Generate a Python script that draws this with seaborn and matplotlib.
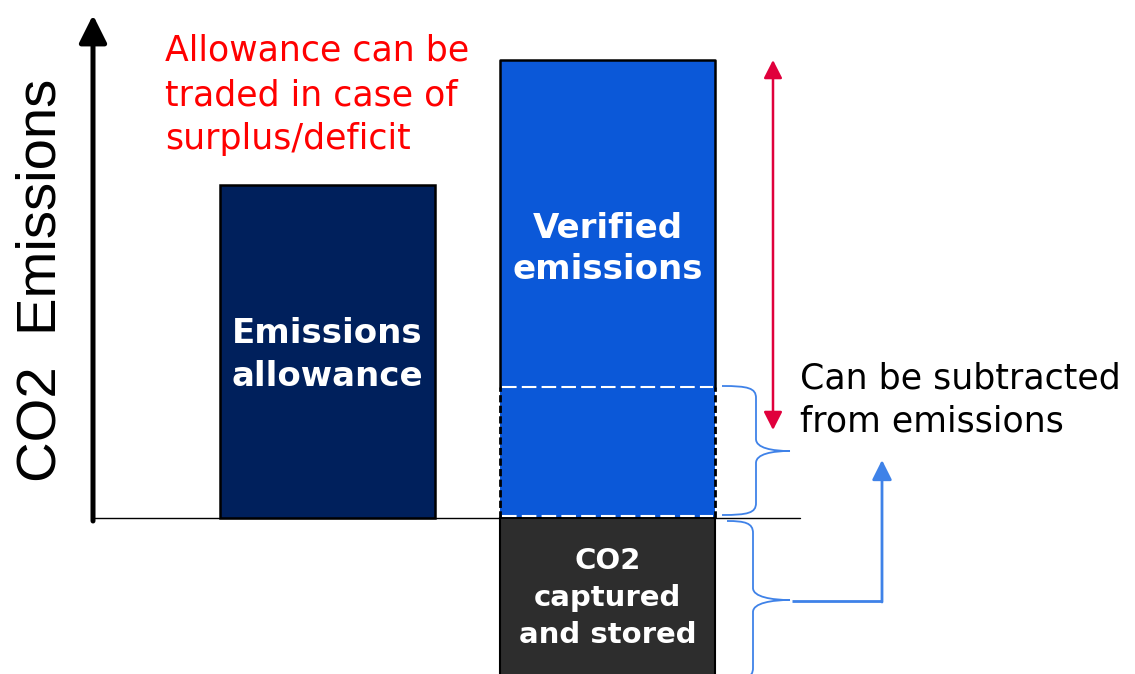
import numpy as np
import pandas as pd
import matplotlib.pyplot as plt
import seaborn as sns
from matplotlib.path import Path
from matplotlib.patches import PathPatch

# --- data (arbitrary emission units, baseline = 0) ---
bar_labels = ["Emissions\nallowance", "Verified\nemissions"]
bar_values = [333, 458]
subtractable = 131       # share of verified emissions offset by CCS
captured_stored = -160   # CO2 captured and stored (below the baseline)

ccs_label = "CO2\ncaptured\nand stored"
axis_label = "CO2  Emissions"
trade_note = "Allowance can be\ntraded in case of\nsurplus/deficit"
subtract_note = "Can be subtracted\nfrom emissions"

# --- layout / styles ---
bar_x = [327.5, 607.5]
bar_colors = ["#00205C", "#0B58D8"]
ccs_color = "#2D2D2D"
brace_color = "#3F82E8"
red_arrow = "#E0003C"
TOP = 518  # pixel row of the baseline


def py(p):
    """pixel row -> data y"""
    return TOP - p


def brace(ax, x0, xm, xt, y_top, y_bot, y_tip, r=12):
    verts = [
        (x0, y_top),
        (xm - 8, y_top), (xm, y_top - 2), (xm, y_top - r),
        (xm, y_tip + r),
        (xm, y_tip + 3), (xt - 18, y_tip), (xt, y_tip),
        (xt - 18, y_tip), (xm, y_tip - 3), (xm, y_tip - r),
        (xm, y_bot + r),
        (xm, y_bot + 2), (xm - 8, y_bot), (x0, y_bot),
    ]
    codes = [Path.MOVETO,
             Path.CURVE4, Path.CURVE4, Path.CURVE4,
             Path.LINETO,
             Path.CURVE4, Path.CURVE4, Path.CURVE4,
             Path.CURVE4, Path.CURVE4, Path.CURVE4,
             Path.LINETO,
             Path.CURVE4, Path.CURVE4, Path.CURVE4]
    ax.add_patch(PathPatch(Path(verts, codes), fill=False,
                           edgecolor=brace_color, lw=1.3))


sns.set_theme(style="white")
plt.rcParams["font.family"] = ["DejaVu Sans"]

fig = plt.figure(figsize=(11.35, 6.74), dpi=100)
ax = fig.add_axes([0, 0, 1, 1])

# baseline
ax.plot([93, 800], [0, 0], color="black", lw=1.0, zorder=1)

df = pd.DataFrame({"x": bar_x, "value": bar_values, "label": bar_labels})
sns.barplot(data=df, x="x", y="value", hue="label", palette=bar_colors,
            native_scale=True, width=0.77, dodge=False, linewidth=0,
            saturation=1, legend=False, ax=ax, zorder=2)

bw = 0.77 * (bar_x[1] - bar_x[0])

# outline of the allowance bar
ax.bar(bar_x[0], bar_values[0], width=bw, fill=False, edgecolor="black",
       lw=1.8, zorder=3)

# captured and stored bar below the baseline
ax.bar(bar_x[1], captured_stored, width=bw, color=ccs_color,
       edgecolor="black", lw=1.5, zorder=2)

# verified bar outline: solid above, dashed over the subtractable part
xl, xr = bar_x[1] - bw / 2, bar_x[1] + bw / 2
ax.plot([xl, xl, xr, xr], [subtractable, bar_values[1], bar_values[1], subtractable],
        color="black", lw=1.8, zorder=3)
for xs in (xl, xr):
    ax.plot([xs, xs], [0, subtractable], color="black", lw=2.0,
            ls=(0, (2.6, 1.2)), zorder=3)
ax.hlines([subtractable, 2], xl + 2, xr - 2, colors="white",
          linestyles=(0, (7, 2.5)), lw=1.5, zorder=4)

# y axis arrow
ax.annotate("", xy=(93, py(15)), xytext=(93, -3),
            arrowprops=dict(arrowstyle="-|>,head_length=0.6,head_width=0.3",
                            lw=3.6, color="black", mutation_scale=28,
                            shrinkA=0, shrinkB=0))
ax.text(42, py(280), axis_label, rotation=90, ha="center", va="center",
        fontsize=40.5, family=["Liberation Sans", "DejaVu Sans"], color="black")

# red double arrow (surplus/deficit)
ax.annotate("", xy=(773, py(60)), xytext=(773, py(430)),
            arrowprops=dict(arrowstyle="<|-|>,head_length=0.55,head_width=0.28",
                            lw=1.8, color=red_arrow, mutation_scale=20,
                            shrinkA=0, shrinkB=0))

# braces
brace(ax, 722, 756, 790, py(386), py(515), py(451))
brace(ax, 727, 753, 790, py(521), py(680), py(600))

# blue arrow from the CCS brace to the note
ax.plot([792, 882], [py(601), py(601)], color=brace_color, lw=2.0,
        solid_capstyle="butt")
ax.annotate("", xy=(882, py(460)), xytext=(882, py(602)),
            arrowprops=dict(arrowstyle="-|>,head_length=0.6,head_width=0.3",
                            lw=2.0, color=brace_color, mutation_scale=20,
                            shrinkA=0, shrinkB=0))

# texts
ax.text(165, py(95), trade_note, ha="left", va="center", color="#FF0000",
        fontsize=25, linespacing=1.38)
ax.text(bar_x[0], py(355), bar_labels[0], ha="center", va="center",
        color="white", fontsize=24.5, fontweight="bold", linespacing=1.42)
ax.text(bar_x[1], py(249), bar_labels[1], ha="center", va="center",
        color="white", fontsize=24.5, fontweight="bold", linespacing=1.33)
ax.text(bar_x[1], py(598), ccs_label, ha="center", va="center",
        color="white", fontsize=21, fontweight="bold", linespacing=1.4)
ax.text(800, py(400), subtract_note, ha="left", va="center", color="black",
        fontsize=25, linespacing=1.34)

ax.set_xlim(0, 1135)
ax.set_ylim(py(674), py(0))
ax.axis("off")

fig.savefig("out.png", dpi=100)
